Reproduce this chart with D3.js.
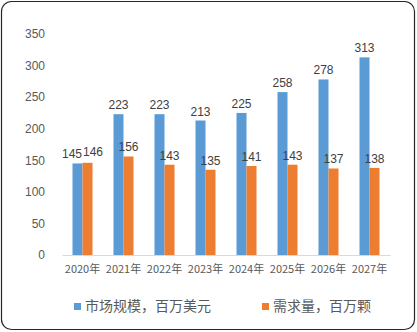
<!DOCTYPE html>
<html><head><meta charset="utf-8">
<script src="https://cdn.jsdelivr.net/npm/d3@7"></script>
<style>body{margin:0;background:#fff}svg{display:block}</style>
</head><body><svg id="c" width="417" height="332"></svg>
<script>
const categories = ["2020年","2021年","2022年","2023年","2024年","2025年","2026年","2027年"];
const marketSize = [145,223,223,213,225,258,278,313];
const demand = [146,156,143,135,141,143,137,138];
const seriesNames = ["市场规模，百万美元","需求量，百万颗"];
const yTicks = [0,50,100,150,200,250,300,350];

(function(){
const svg = d3.select("#c");
const font = "'Noto Sans CJK SC','Liberation Sans',sans-serif";
const numFont = "'Liberation Sans','DejaVu Sans',sans-serif";
svg.append("rect").attr("x",1.5).attr("y",1.5).attr("width",413).attr("height",328)
  .attr("rx",10).attr("fill","#fff").attr("stroke","#262626").attr("stroke-width",1.2);

const pl=62,pr=390,pt=34,pb=255;
const x = d3.scaleBand().domain(categories).range([pl,pr]);
const y = d3.scaleLinear().domain([0,350]).range([pb,pt]);
const colors=["#5B9BD5","#ED7D31"];
const bw=10;

const ya = svg.append("g").attr("transform",`translate(${pl},0)`)
  .call(d3.axisLeft(y).tickValues(yTicks).tickSize(0).tickPadding(17));
ya.select(".domain").remove();
ya.selectAll("text").attr("font-family",numFont).attr("font-size",12).attr("fill","#595959");

const xa = svg.append("g").attr("transform",`translate(0,${pb})`)
  .call(d3.axisBottom(x).tickSize(0).tickPadding(10));
xa.select(".domain").attr("stroke","#D9D9D9");
xa.selectAll("text").attr("font-family",font).attr("font-size",11).attr("fill","#595959");

const series=[marketSize,demand];
series.forEach((vals,si)=>{
  const g=svg.append("g");
  g.selectAll("rect").data(vals).join("rect")
    .attr("x",(d,i)=>x(categories[i])+x.bandwidth()/2-bw+si*bw)
    .attr("y",d=>y(d)).attr("width",bw).attr("height",d=>pb-y(d))
    .attr("fill",colors[si]);
  const close=i=>Math.abs(y(series[0][i])-y(series[1][i]))<12;
  g.selectAll("text").data(vals).join("text")
    .attr("x",(d,i)=>{
      let cx=x(categories[i])+x.bandwidth()/2-bw/2+si*bw;
      if(close(i)) cx += si===0?-5.5:5.5;
      return cx;
    })
    .attr("y",(d,i)=>y(d)-5-(close(i)&&d>series[1-si][i]?2:0))
    .attr("text-anchor","middle").attr("font-family",numFont).attr("font-size",12)
    .attr("fill","#404040").text(d=>d);
});

const leg=[{x:74,name:seriesNames[0]},{x:262,name:seriesNames[1]}];
leg.forEach((l,i)=>{
  svg.append("rect").attr("x",l.x).attr("y",303).attr("width",7).attr("height",7).attr("fill",colors[i]);
  svg.append("text").attr("x",l.x+11).attr("y",311).attr("font-family",font).attr("font-size",14)
    .attr("fill","#595959").text(l.name);
});
})();
</script></body></html>
